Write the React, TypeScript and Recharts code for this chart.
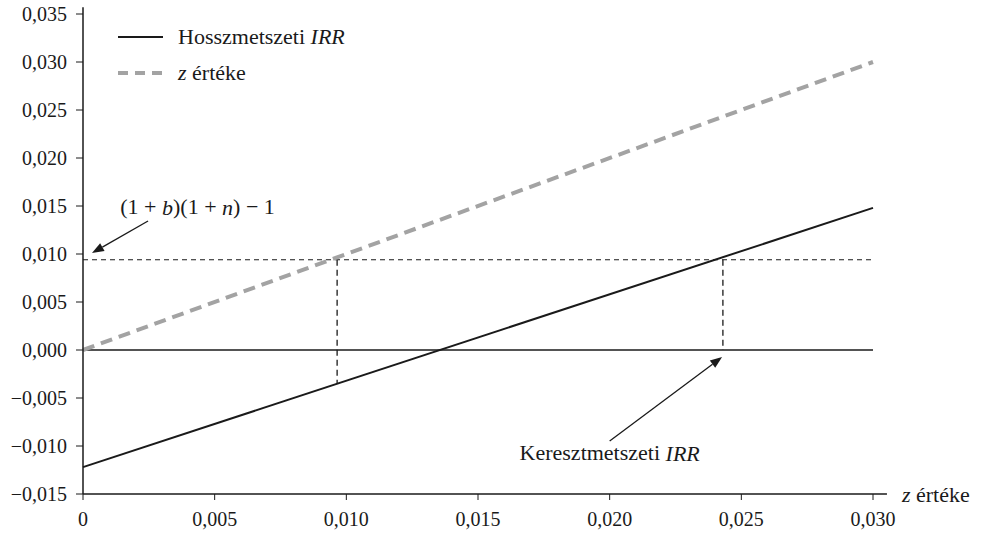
import React from "react";
import {
  LineChart,
  Line,
  XAxis,
  YAxis,
  ReferenceLine,
  ReferenceDot,
  Legend,
} from "recharts";

// z értéke (x) and the two series
const zValues = [0, 0.03];
const irrValues = [-0.0122, 0.0148]; // Hosszmetszeti IRR
const zLineValues = [0, 0.03]; // z értéke

const xTicks = [0, 0.005, 0.01, 0.015, 0.02, 0.025, 0.03];
const yTicks = [
  -0.015, -0.01, -0.005, 0, 0.005, 0.01, 0.015, 0.02, 0.025, 0.03, 0.035,
];

// (1+b)(1+n)-1 level and where it meets the lines
const thresholdLevel = 0.0094;
const hosszCrossX = 0.00965;
const hosszCrossBottom = -0.0035;
const keresztCrossX = 0.0243;

// annotation anchors (data coords)
const arrowFormula = { from: [0.00247, 0.01344], to: [0.00034, 0.0101] };
const arrowKereszt = { from: [0.02, -0.00948], to: [0.02427, -0.00073] };
const formulaPos = [0.00435, 0.0149];
const keresztPos = [0.02, -0.0107];

const data = zValues.map((z, i) => ({
  z,
  irr: irrValues[i],
  zline: zLineValues[i],
}));

const FONT = "'Liberation Serif', 'DejaVu Serif', serif";
const INK = "#1a1a1a";
const GREY = "#a3a3a3";
const TXT = 22;

const fmt = (v: number) => v.toFixed(3).replace(".", ",").replace("-", "\u2212");

const ArrowShape = (props: any) => {
  const { x1, y1, x2, y2 } = props;
  const ang = Math.atan2(y2 - y1, x2 - x1);
  const len = 12;
  const half = 4.5;
  const bx = x2 - len * Math.cos(ang);
  const by = y2 - len * Math.sin(ang);
  const p1 = `${bx + half * Math.sin(ang)},${by - half * Math.cos(ang)}`;
  const p2 = `${bx - half * Math.sin(ang)},${by + half * Math.cos(ang)}`;
  return (
    <g>
      <line x1={x1} y1={y1} x2={bx} y2={by} stroke={INK} strokeWidth={1.3} />
      <polygon points={`${x2},${y2} ${p1} ${p2}`} fill={INK} />
    </g>
  );
};

const renderLegend = () => (
  <div style={{ fontFamily: FONT, fontSize: TXT, color: INK }}>
    <div style={{ display: "flex", alignItems: "center", height: 36 }}>
      <svg width={62} height={10}>
        <line x1={2} y1={5} x2={47} y2={5} stroke={INK} strokeWidth={2} />
      </svg>
      <span>
        Hosszmetszeti <i>IRR</i>
      </span>
    </div>
    <div style={{ display: "flex", alignItems: "center", height: 36 }}>
      <svg width={62} height={10}>
        <line
          x1={2}
          y1={5}
          x2={47}
          y2={5}
          stroke={GREY}
          strokeWidth={4}
          strokeDasharray="10 7"
        />
      </svg>
      <span>
        <i>z</i> értéke
      </span>
    </div>
  </div>
);

export default function App() {
  return (
    <div style={{ position: "absolute", left: 0, top: 0, background: "#fff" }}>
      <LineChart
        width={983}
        height={533}
        data={data}
        margin={{ top: 14, right: 110, left: 0, bottom: 0 }}
      >
        <XAxis
          dataKey="z"
          type="number"
          domain={[0, 0.03]}
          ticks={xTicks}
          tickFormatter={(v: number) => (v === 0 ? "0" : fmt(v))}
          height={39}
          tickSize={6}
          tickMargin={12}
          stroke={INK}
          tick={{ fill: INK, fontSize: 20, fontFamily: FONT }}
          axisLine={{ stroke: INK, strokeWidth: 1.5 }}
        />
        <YAxis
          type="number"
          domain={[-0.015, 0.035]}
          ticks={yTicks}
          tickFormatter={fmt}
          width={83}
          tickSize={7}
          tickMargin={9}
          stroke={INK}
          tick={{ fill: INK, fontSize: 20, fontFamily: FONT }}
          axisLine={{ stroke: INK, strokeWidth: 1.5 }}
        />
        <Legend
          layout="vertical"
          align="center"
          verticalAlign="middle"
          wrapperStyle={{ top: 19, left: 116, width: "auto", height: "auto" }}
          content={renderLegend}
        />
        {/* axis extensions */}
        <ReferenceLine
          segment={[
            { x: 0.03, y: -0.015 },
            { x: 0.03053, y: -0.015 },
          ]}
          stroke={INK}
          strokeWidth={1.5}
          ifOverflow="visible"
        />
        <ReferenceLine
          segment={[
            { x: 0, y: 0.035 },
            { x: 0, y: 0.0357 },
          ]}
          stroke={INK}
          strokeWidth={1.5}
          ifOverflow="visible"
        />
        <ReferenceLine y={0} stroke={INK} strokeWidth={1.3} />
        <ReferenceLine
          y={thresholdLevel}
          stroke={INK}
          strokeWidth={1.1}
          strokeDasharray="5 4"
        />
        <ReferenceLine
          segment={[
            { x: hosszCrossX, y: thresholdLevel },
            { x: hosszCrossX, y: hosszCrossBottom },
          ]}
          stroke={INK}
          strokeWidth={1.3}
          strokeDasharray="6 4"
        />
        <ReferenceLine
          segment={[
            { x: keresztCrossX, y: thresholdLevel },
            { x: keresztCrossX, y: 0 },
          ]}
          stroke={INK}
          strokeWidth={1.3}
          strokeDasharray="6 4"
        />
        <Line
          type="linear"
          dataKey="zline"
          stroke={GREY}
          strokeWidth={4}
          strokeDasharray="12 7"
          dot={false}
          isAnimationActive={false}
        />
        <Line
          type="linear"
          dataKey="irr"
          stroke={INK}
          strokeWidth={2}
          dot={false}
          isAnimationActive={false}
        />
        <ReferenceLine
          segment={[
            { x: arrowFormula.from[0], y: arrowFormula.from[1] },
            { x: arrowFormula.to[0], y: arrowFormula.to[1] },
          ]}
          shape={ArrowShape}
        />
        <ReferenceLine
          segment={[
            { x: arrowKereszt.from[0], y: arrowKereszt.from[1] },
            { x: arrowKereszt.to[0], y: arrowKereszt.to[1] },
          ]}
          shape={ArrowShape}
        />
        <ReferenceDot
          x={formulaPos[0]}
          y={formulaPos[1]}
          r={0}
          shape={(p: any) => (
            <text
              x={p.cx}
              y={p.cy}
              textAnchor="middle"
              dominantBaseline="central"
              fontFamily={FONT}
              fontSize={TXT}
              fill={INK}
            >
              (1 + <tspan fontStyle="italic">b</tspan>)(1 +{" "}
              <tspan fontStyle="italic">n</tspan>) {"\u2212"} 1
            </text>
          )}
        />
        <ReferenceDot
          x={keresztPos[0]}
          y={keresztPos[1]}
          r={0}
          shape={(p: any) => (
            <text
              x={p.cx}
              y={p.cy}
              textAnchor="middle"
              dominantBaseline="central"
              fontFamily={FONT}
              fontSize={TXT}
              fill={INK}
            >
              Keresztmetszeti <tspan fontStyle="italic">IRR</tspan>
            </text>
          )}
        />
        <ReferenceDot
          x={0.03053}
          y={-0.015}
          r={0}
          ifOverflow="visible"
          shape={(p: any) => (
            <text
              x={p.cx + 15}
              y={p.cy}
              textAnchor="start"
              dominantBaseline="central"
              fontFamily={FONT}
              fontSize={TXT}
              fill={INK}
            >
              <tspan fontStyle="italic">z</tspan> értéke
            </text>
          )}
        />
      </LineChart>
    </div>
  );
}
